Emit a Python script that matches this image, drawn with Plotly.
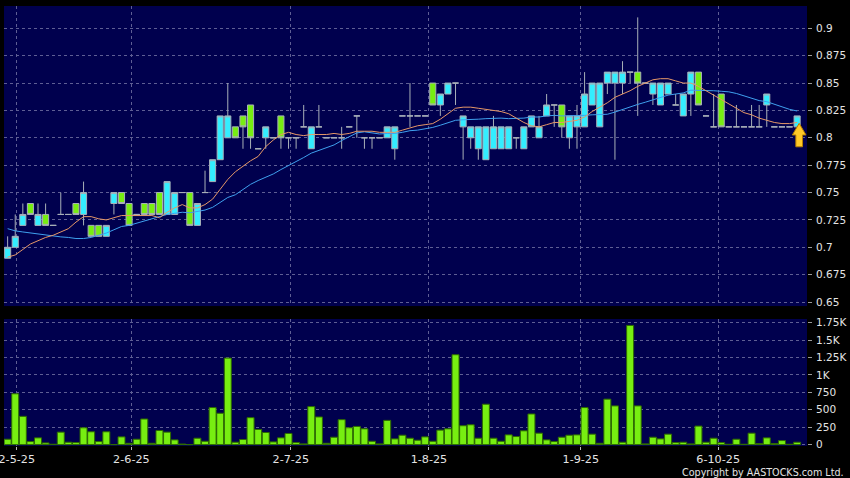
import plotly.graph_objects as go
import pandas as pd

# ---- data (one entry per trading day) ----
open_ = [0.69, 0.70, 0.72, 0.74, 0.72, 0.73, 0.72, 0.73, 0.73, 0.74,
         0.73, 0.72, 0.72, 0.71, 0.74, 0.75, 0.74, 0.73, 0.74, 0.74,
         0.75, 0.73, 0.73, 0.75, 0.75, 0.72, 0.75, 0.76, 0.78, 0.80,
         0.81, 0.82, 0.83, 0.79, 0.80, 0.80, 0.82, 0.80, 0.80, 0.81,
         0.79, 0.81, 0.80, 0.80, 0.80, 0.81, 0.82, 0.80, 0.80, 0.80,
         0.80, 0.79, 0.82, 0.82, 0.82, 0.82, 0.85, 0.83, 0.84, 0.85,
         0.81, 0.80, 0.79, 0.78, 0.79, 0.79, 0.79, 0.80, 0.79, 0.81,
         0.80, 0.82, 0.83, 0.83, 0.80, 0.81, 0.81, 0.83, 0.81, 0.85,
         0.85, 0.85, 0.86, 0.86, 0.85, 0.84, 0.83, 0.84, 0.83, 0.82,
         0.84, 0.86, 0.82, 0.81, 0.84, 0.81, 0.81, 0.81, 0.81, 0.81,
         0.83, 0.81, 0.81, 0.81, 0.81]
high = [0.71, 0.73, 0.74, 0.74, 0.74, 0.74, 0.72, 0.75, 0.73, 0.74,
        0.76, 0.72, 0.72, 0.72, 0.75, 0.75, 0.74, 0.73, 0.74, 0.74,
        0.75, 0.76, 0.75, 0.75, 0.75, 0.74, 0.77, 0.78, 0.82, 0.85,
        0.81, 0.82, 0.83, 0.79, 0.81, 0.80, 0.82, 0.80, 0.80, 0.83,
        0.81, 0.83, 0.80, 0.80, 0.81, 0.81, 0.82, 0.80, 0.80, 0.80,
        0.81, 0.81, 0.82, 0.85, 0.82, 0.82, 0.85, 0.84, 0.85, 0.85,
        0.82, 0.81, 0.81, 0.81, 0.82, 0.81, 0.81, 0.80, 0.81, 0.82,
        0.82, 0.84, 0.83, 0.83, 0.82, 0.83, 0.86, 0.85, 0.85, 0.86,
        0.86, 0.87, 0.86, 0.91, 0.85, 0.85, 0.85, 0.85, 0.84, 0.84,
        0.86, 0.86, 0.82, 0.84, 0.84, 0.81, 0.83, 0.81, 0.83, 0.83,
        0.84, 0.81, 0.81, 0.81, 0.82]
low = [0.69, 0.70, 0.72, 0.73, 0.72, 0.72, 0.72, 0.73, 0.73, 0.73,
       0.72, 0.71, 0.71, 0.71, 0.73, 0.74, 0.72, 0.73, 0.73, 0.73,
       0.73, 0.73, 0.73, 0.75, 0.72, 0.72, 0.75, 0.76, 0.78, 0.80,
       0.80, 0.79, 0.79, 0.79, 0.79, 0.80, 0.79, 0.79, 0.79, 0.81,
       0.79, 0.81, 0.80, 0.80, 0.79, 0.81, 0.80, 0.79, 0.79, 0.80,
       0.80, 0.78, 0.82, 0.81, 0.82, 0.82, 0.83, 0.82, 0.84, 0.83,
       0.78, 0.79, 0.78, 0.78, 0.79, 0.79, 0.79, 0.79, 0.79, 0.81,
       0.80, 0.82, 0.81, 0.80, 0.79, 0.79, 0.81, 0.83, 0.81, 0.84,
       0.78, 0.84, 0.85, 0.82, 0.85, 0.83, 0.83, 0.84, 0.83, 0.82,
       0.82, 0.83, 0.82, 0.81, 0.81, 0.81, 0.81, 0.81, 0.81, 0.81,
       0.81, 0.81, 0.81, 0.81, 0.81]
close = [0.70, 0.71, 0.73, 0.73, 0.73, 0.72, 0.72, 0.73, 0.73, 0.73,
         0.75, 0.71, 0.71, 0.72, 0.75, 0.74, 0.72, 0.73, 0.73, 0.73,
         0.73, 0.76, 0.75, 0.75, 0.72, 0.74, 0.75, 0.78, 0.82, 0.82,
         0.80, 0.81, 0.80, 0.79, 0.81, 0.80, 0.80, 0.80, 0.80, 0.81,
         0.81, 0.81, 0.80, 0.80, 0.80, 0.81, 0.82, 0.80, 0.80, 0.80,
         0.81, 0.81, 0.82, 0.82, 0.82, 0.82, 0.83, 0.84, 0.85, 0.85,
         0.82, 0.81, 0.81, 0.81, 0.81, 0.81, 0.81, 0.80, 0.81, 0.82,
         0.81, 0.83, 0.83, 0.81, 0.82, 0.82, 0.84, 0.85, 0.85, 0.86,
         0.86, 0.86, 0.86, 0.85, 0.85, 0.85, 0.85, 0.85, 0.83, 0.84,
         0.86, 0.83, 0.82, 0.81, 0.81, 0.81, 0.81, 0.81, 0.81, 0.81,
         0.84, 0.81, 0.81, 0.81, 0.82]
volume = [77, 730, 406, 44, 97, 24, 5, 179, 34, 29,
          242, 184, 44, 184, 0, 111, 19, 77, 368, 19,
          203, 179, 68, 8, 0, 92, 48, 532, 450, 1243,
          34, 73, 387, 218, 174, 39, 97, 160, 29, 10,
          546, 397, 19, 106, 358, 242, 261, 227, 48, 10,
          348, 82, 135, 92, 63, 111, 48, 208, 227, 1291,
          271, 285, 92, 580, 92, 48, 140, 116, 198, 440,
          164, 68, 44, 106, 135, 140, 532, 150, 19, 653,
          556, 34, 1712, 556, 10, 106, 82, 150, 29, 34,
          10, 266, 34, 92, 29, 5, 77, 5, 164, 15,
          97, 15, 58, 5, 34]
# moving-average values at the chart start (they depend on earlier, unseen days)
ma10_head = [0.691, 0.693, 0.698, 0.703, 0.706, 0.709, 0.711, 0.714, 0.717]
ma20_head = [0.717, 0.715, 0.714, 0.713, 0.712, 0.711, 0.710, 0.7095, 0.709,
             0.708, 0.708, 0.709, 0.711, 0.713, 0.716, 0.719, 0.720, 0.722, 0.724]

date_labels = ["2-5-25", "2-6-25", "2-7-25", "1-8-25", "1-9-25", "6-10-25"]
date_pos = [1.2, 16.3, 37.3, 55.5, 75.5, 93.6]
price_ticks = [0.65, 0.675, 0.7, 0.725, 0.75, 0.775, 0.8, 0.825, 0.85, 0.875, 0.9]
vol_ticks = [0, 250, 500, 750, 1000, 1250, 1500, 1750]
vol_labels = ["0", "250", "500", "750", "1K", "1.25K", "1.5K", "1.75K"]

# ---- derived series ----
n = len(close)
idx = list(range(n))
cs = pd.Series(close)
ma10 = cs.rolling(10).mean().tolist()
ma20 = cs.rolling(20).mean().tolist()
ma10[:len(ma10_head)] = ma10_head
ma20[:len(ma20_head)] = ma20_head

CYAN = "#33eeff"
LIME = "#77ee11"
WICK = "#a8b0b8"
GRID = "#5e5e94"
TXT = "#e4e4e4"
FONT = "DejaVu Sans"

fig = go.Figure()
fig.add_trace(go.Candlestick(
    x=idx, open=open_, high=high, low=low, close=close,
    increasing=dict(line=dict(color=WICK, width=1), fillcolor=CYAN),
    decreasing=dict(line=dict(color=WICK, width=1), fillcolor=LIME),
    whiskerwidth=0, xaxis="x", yaxis="y", showlegend=False))
fig.add_trace(go.Scatter(x=idx, y=ma20, mode="lines",
                         line=dict(color="#3fa0ee", width=1),
                         xaxis="x", yaxis="y", showlegend=False))
fig.add_trace(go.Scatter(x=idx, y=ma10, mode="lines",
                         line=dict(color="#e69868", width=1),
                         xaxis="x", yaxis="y", showlegend=False))
fig.add_trace(go.Bar(x=idx, y=volume,
                     marker=dict(color=LIME, line=dict(color="#2e6a00", width=1)),
                     xaxis="x2", yaxis="y2", showlegend=False))

# yellow arrow under the latest candle
xc = idx[-1] + 0.27
tip = low[-1] + 0.0032
hw, sw, hh, tot = 0.9, 0.44, 0.0106, 0.0214
path = (f"M {xc},{tip} L {xc+hw},{tip-hh} L {xc+sw},{tip-hh} L {xc+sw},{tip-tot} "
        f"L {xc-sw},{tip-tot} L {xc-sw},{tip-hh} L {xc-hw},{tip-hh} Z")
fig.add_shape(type="path", path=path, xref="x", yref="y",
              fillcolor="#ffc928", line=dict(color="#b57d00", width=1), layer="above")

axis_common = dict(showgrid=True, gridcolor=GRID, griddash="3px,3px", gridwidth=1,
                   zeroline=False, showline=False, automargin=False)

fig.update_layout(
    width=850, height=478,
    margin=dict(l=4, r=43, t=6, b=32, autoexpand=False),
    paper_bgcolor="#000000", plot_bgcolor="#00004e",
    boxgap=0.2, boxgroupgap=0, bargap=0.08,
    showlegend=False,
    font=dict(family=FONT, color=TXT, size=10.5),
    xaxis=dict(domain=[0, 1], range=[-0.48, 105.3], anchor="y",
               tickvals=date_pos, showticklabels=False, ticks="",
               rangeslider=dict(visible=False), **axis_common),
    yaxis=dict(domain=[0.318, 1], range=[0.6463, 0.9204], side="right", anchor="x",
               tickvals=price_ticks, ticktext=[f"{v:g}" for v in price_ticks],
               ticks="outside", ticklen=4, tickcolor="#9a9a9a",
               ticklabelstandoff=2,
               tickfont=dict(family=FONT, size=10.5, color=TXT), **axis_common),
    xaxis2=dict(domain=[0, 1], range=[-0.48, 105.3], anchor="y2", matches="x",
                tickvals=date_pos, ticktext=date_labels,
                ticks="outside", ticklen=3, tickcolor="#bbbbbb",
                ticklabeloverflow="allow",
                tickfont=dict(family=FONT, size=11.2, color=TXT), **axis_common),
    yaxis2=dict(domain=[0, 0.2886], range=[-20, 1804], side="right", anchor="x2",
                tickvals=vol_ticks, ticktext=vol_labels,
                ticks="outside", ticklen=4, tickcolor="#9a9a9a",
                ticklabelstandoff=2,
                tickfont=dict(family=FONT, size=10.5, color=TXT), **axis_common),
    annotations=[dict(text="Copyright by AASTOCKS.com Ltd.", xref="paper", yref="paper",
                      x=1.0486, y=-0.0595, xanchor="right", yanchor="middle",
                      showarrow=False, font=dict(family=FONT, size=9.6, color=TXT))],
)

# remove the default 8px page margin so the 850x478 figure fills the window
fig.write_html("out.html",
               config={"displayModeBar": False, "staticPlot": True},
               post_script="document.body.style.margin='0';"
                           "document.body.style.background='#000';")
